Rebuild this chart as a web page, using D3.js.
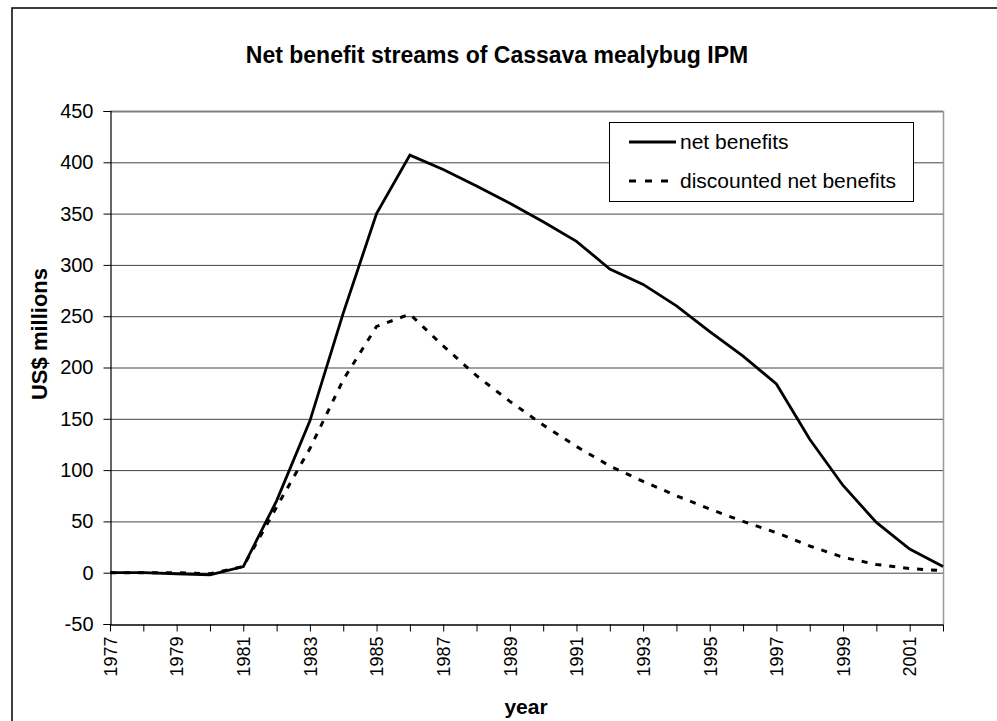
<!DOCTYPE html>
<html>
<head>
<meta charset="utf-8">
<script src="https://cdn.jsdelivr.net/npm/d3@7"></script>
<style>
  body { margin: 0; background: #fff; }
  text { font-family: "Liberation Sans", Arial, sans-serif; }
</style>
</head>
<body>
<div id="chart"></div>
<script>
// data
var years = d3.range(1977, 2003);
var netBenefits = [0, 0, -1, -2, 6, 70, 148, 253, 350, 407, 393, 377, 360, 342, 323, 296, 281, 260, 235, 211, 184, 130, 85, 49, 23, 6];
var discounted = [0, 0, 0, -1, 6, 64, 121, 188, 240, 252, 221, 192, 167, 144, 123, 104, 89, 75, 62, 50, 39, 26, 15, 8, 4, 2];
var yTicks = [-50, 0, 50, 100, 150, 200, 250, 300, 350, 400, 450];
var labelYears = [1977, 1979, 1981, 1983, 1985, 1987, 1989, 1991, 1993, 1995, 1997, 1999, 2001];
var seriesNames = ["net benefits", "discounted net benefits"];

var width = 997, height = 721;
var margin = {top: 111, right: 54, bottom: 97, left: 110};

var svg = d3.select("#chart").append("svg")
    .attr("width", width)
    .attr("height", height);

// outer chart frame (runs off the right and bottom of the page)
svg.append("path")
    .attr("d", "M12," + height + "V8H" + width)
    .attr("fill", "none")
    .attr("stroke", "#000")
    .attr("stroke-width", 1.5);

var x = d3.scalePoint()
    .domain(years)
    .range([margin.left, width - margin.right]);

var y = d3.scaleLinear()
    .domain([-50, 450])
    .range([height - margin.bottom, margin.top]);

// gridlines
svg.append("g").selectAll("line")
    .data(yTicks.filter(function(d) { return d > -50; }))
    .enter().append("line")
    .attr("x1", margin.left)
    .attr("x2", width - margin.right)
    .attr("y1", function(d) { return y(d) + 0.5; })
    .attr("y2", function(d) { return y(d) + 0.5; })
    .attr("stroke", function(d) { return d == 450 ? "#808080" : "#444"; })
    .attr("stroke-width", function(d) { return d == 450 ? 2 : 1; });

// right border of plot area
svg.append("line")
    .attr("x1", width - margin.right + 0.5)
    .attr("x2", width - margin.right + 0.5)
    .attr("y1", margin.top)
    .attr("y2", height - margin.bottom)
    .attr("stroke", "#999")
    .attr("stroke-width", 1.5);

// y axis
var yAxis = svg.append("g")
    .attr("transform", "translate(" + (margin.left + 0.5) + ",0)")
    .call(d3.axisLeft(y).tickValues(yTicks).tickSize(7).tickPadding(10)
        .tickFormat(function(d) { return String(d); }));
yAxis.select(".domain").attr("stroke", "#000").attr("stroke-width", 1.2);
yAxis.selectAll("text")
    .attr("font-size", 20)
    .attr("fill", "#000")
    .style("font-family", "Liberation Sans, Arial, sans-serif");

// x axis: a tick per year, a label every other year
var xAxis = svg.append("g")
    .attr("transform", "translate(0," + (height - margin.bottom + 0.5) + ")")
    .call(d3.axisBottom(x).tickSize(7).tickSizeOuter(0)
        .tickFormat(function(d) { return labelYears.indexOf(d) >= 0 ? String(d) : ""; }));
xAxis.select(".domain").attr("stroke", "#000").attr("stroke-width", 1.5);
xAxis.selectAll("text")
    .attr("font-size", 18)
    .attr("fill", "#000")
    .style("font-family", "Liberation Sans, Arial, sans-serif")
    .attr("text-anchor", "end")
    .attr("transform", "rotate(-90)")
    .attr("x", -12)
    .attr("y", 0)
    .attr("dy", "0.35em");

// lines
var line = d3.line()
    .x(function(d, i) { return x(years[i]); })
    .y(function(d) { return y(d); });

svg.append("path")
    .datum(discounted)
    .attr("d", line)
    .attr("fill", "none")
    .attr("stroke", "#000")
    .attr("stroke-width", 3)
    .attr("stroke-dasharray", "6,8");

svg.append("path")
    .datum(netBenefits)
    .attr("d", line)
    .attr("fill", "none")
    .attr("stroke", "#000")
    .attr("stroke-width", 2.8)
    .attr("stroke-linejoin", "miter");

// title and axis titles
svg.append("text")
    .attr("x", 497)
    .attr("y", 63)
    .attr("text-anchor", "middle")
    .attr("font-size", 23)
    .attr("font-weight", "bold")
    .text("Net benefit streams of Cassava mealybug IPM");

svg.append("text")
    .attr("transform", "translate(47,334) rotate(-90)")
    .attr("text-anchor", "middle")
    .attr("font-size", 22)
    .attr("font-weight", "bold")
    .text("US$ millions");

svg.append("text")
    .attr("x", 526)
    .attr("y", 714)
    .attr("text-anchor", "middle")
    .attr("font-size", 21)
    .attr("font-weight", "bold")
    .text("year");

// legend
var legend = svg.append("g").attr("transform", "translate(609,122)");
legend.append("rect")
    .attr("x", 0.5).attr("y", 0.5)
    .attr("width", 304).attr("height", 79)
    .attr("fill", "#fff")
    .attr("stroke", "#000")
    .attr("stroke-width", 1);

var item = legend.selectAll(".item")
    .data(seriesNames)
    .enter().append("g")
    .attr("class", "item")
    .attr("transform", function(d, i) { return "translate(0," + (20 + i * 39) + ")"; });

item.append("line")
    .attr("x1", 20).attr("x2", 67)
    .attr("stroke", "#000")
    .attr("stroke-width", 3)
    .attr("stroke-dasharray", function(d, i) { return i == 1 ? "7,9" : null; });

item.append("text")
    .attr("x", 71)
    .attr("dy", "0.35em")
    .attr("font-size", 21)
    .text(function(d) { return d; });
</script>
</body>
</html>
